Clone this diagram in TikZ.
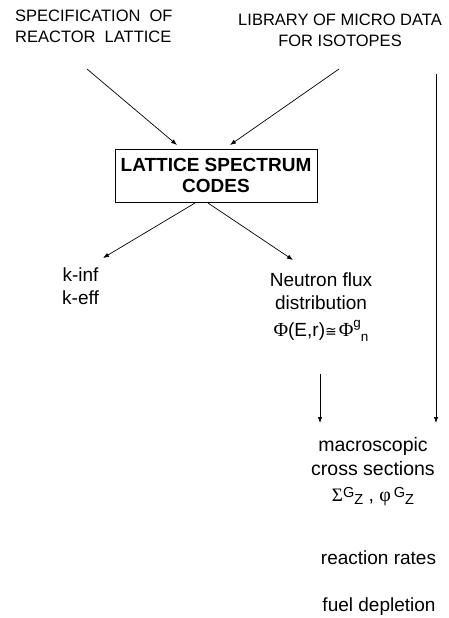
\documentclass[tikz,border=0pt]{standalone}
\usepackage{fontspec}
\setmainfont{Liberation Sans}
\newfontfamily\serifg{Liberation Serif}
\newfontfamily\dvsans{DejaVu Sans}
\usetikzlibrary{arrows.meta}
\newcommand{\upidx}[3]{\raisebox{#1}{\fontsize{#2}{#2}\selectfont #3}}
\begin{document}
\begin{tikzpicture}[x=1pt,y=-1pt,
  conn/.style={line width=0.7pt,-{Latex[length=6pt,width=4.5pt]}},
  hdr/.style={inner sep=0pt,font=\fontsize{16.5}{21}\selectfont},
  body/.style={inner sep=0pt,font=\fontsize{19}{22.5}\selectfont,align=center},
  codebox/.style={draw,line width=0.8pt,minimum width=202pt,minimum height=53pt,inner sep=0pt,align=center,font=\fontsize{19}{21}\selectfont\bfseries}]
\useasboundingbox (0,0) rectangle (448,618);
\node[hdr,align=left,anchor=base west] (spec) at (15,42.5) {SPECIFICATION\ \ OF\\REACTOR\ \ LATTICE};
\node[hdr,align=center,anchor=base] (lib) at (340,46.7) {LIBRARY OF MICRO DATA\\FOR ISOTOPES};
\node[codebox] (codes) at (216,175.5) {LATTICE SPECTRUM\\CODES};
\node[body,anchor=base] (keff) at (80.5,304) {k-inf\\k-eff};
\node[body,anchor=base] (flux) at (321,336) {Neutron flux\\distribution\\[4.5pt]{\serifg\fontsize{20}{20}\selectfont Φ}(E,r){\dvsans\fontsize{14}{14}\selectfont ≅}\hspace{2pt}{\serifg\fontsize{20}{20}\selectfont Φ}\upidx{9pt}{13.5}{g}\upidx{-5.5pt}{13.5}{n}};
\node[inner sep=0pt,anchor=base,align=center,font=\fontsize{19.5}{23.3}\selectfont] (macro) at (373,501.7) {macroscopic\\cross sections\\[3.4pt]{\serifg\fontsize{19}{19}\selectfont Σ}\upidx{4.4pt}{14.5}{G}\upidx{-2.3pt}{14.5}{Z} , {\serifg\fontsize{20}{20}\selectfont φ}\hspace{3pt}\upidx{4.4pt}{14.5}{G}\upidx{-2.3pt}{14.5}{Z}};
\node[body,anchor=base] (rates) at (378.5,564) {reaction rates};
\node[body,anchor=base] (fuel) at (379,611.7) {fuel depletion};
\coordinate (a1s) at (87,69); \coordinate (a1e) at (177,145);
\coordinate (a2s) at (339,69); \coordinate (a2e) at (230,145);
\coordinate (a3s) at (195,203); \coordinate (a3e) at (103,258);
\coordinate (a4s) at (208,203); \coordinate (a4e) at (293,260);
\coordinate (a5s) at (320,374); \coordinate (a5e) at (320,423);
\coordinate (a6s) at (436,74); \coordinate (a6e) at (436,423);
\draw[conn] (a1s) -- (a1e);
\draw[conn] (a2s) -- (a2e);
\draw[conn] (a3s) -- (a3e);
\draw[conn] (a4s) -- (a4e);
\draw[conn] (a5s) -- (a5e);
\draw[conn] (a6s) -- (a6e);
\end{tikzpicture}
\end{document}
